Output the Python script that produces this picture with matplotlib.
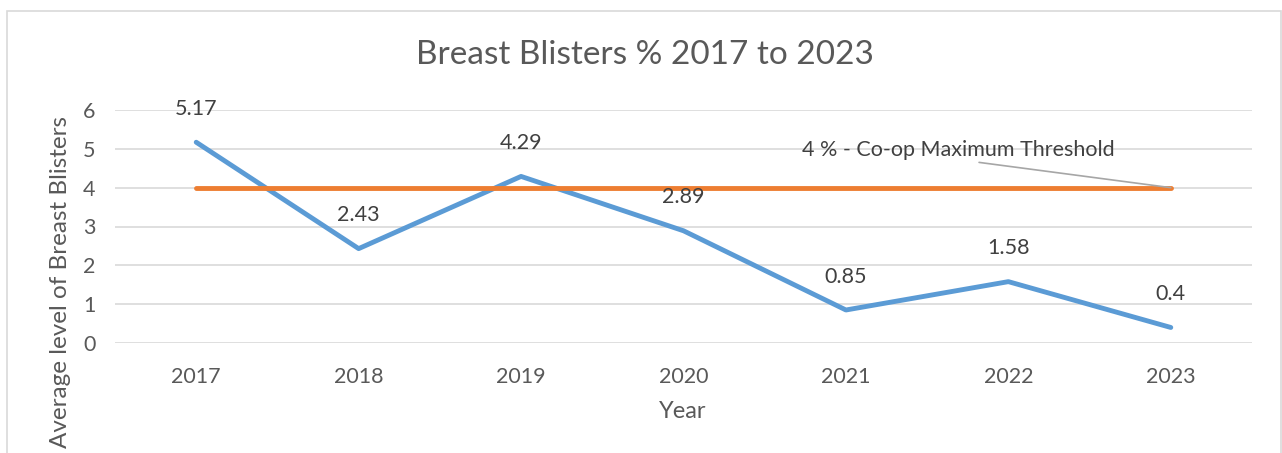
import numpy as np
import matplotlib.pyplot as plt
from matplotlib.patches import Rectangle

plt.rcParams['font.family'] = ['Lato', 'DejaVu Sans']

# data
years = ["2017", "2018", "2019", "2020", "2021", "2022", "2023"]
blisters = [5.17, 2.43, 4.29, 2.89, 0.85, 1.58, 0.4]
threshold = [4, 4, 4, 4, 4, 4, 4]
threshold_label = "4 % - Co-op Maximum Threshold"

grey = "#595959"
W, H = 1282, 453
fig = plt.figure(figsize=(W / 100, H / 100), dpi=100)

# outer chart frame (bottom is cut off in the reference)
fig.patches.append(Rectangle((7 / W, -0.1), (1281 - 7) / W, 1.1 - 11 / H,
                             transform=fig.transFigure, fill=False,
                             edgecolor="#d9d9d9", linewidth=1.2))

ax = fig.add_axes([115 / W, (H - 343) / H, (1252 - 115) / W, (343 - 110) / H])
x = np.arange(len(years))

ax.plot(x, blisters, color="#5b9bd5", linewidth=3.5, solid_capstyle="round", zorder=3)
ax.plot(x, threshold, color="#ed7d31", linewidth=3.5, solid_capstyle="round", zorder=3)

for xi, v in zip(x, blisters):
    ax.annotate(f"{v:g}", (xi, v), xytext=(0, 24), textcoords="offset points",
                ha="center", va="center", fontsize=15.5, color="#404040")

# label for the threshold line with a leader line
ax.annotate(threshold_label, xy=(x[-1], threshold[-1]), xytext=(4.69, 4.98),
            ha="center", va="center", fontsize=15.5, color="#404040",
            arrowprops=dict(arrowstyle="-", color="#a6a6a6", lw=1.2,
                            shrinkA=0, shrinkB=0, relpos=(0.5, 0.0)))

ax.set_xlim(-0.5, len(years) - 0.5)
ax.set_ylim(0, 6)
ax.set_yticks(range(0, 7))
ax.set_xticks(x)
ax.set_xticklabels(years)
ax.tick_params(length=0, labelsize=15.5, colors=grey)
ax.tick_params(axis="x", pad=17)
ax.tick_params(axis="y", pad=14)
ax.grid(axis="y", color="#d9d9d9", linewidth=1.2)
ax.set_axisbelow(True)
for s in ax.spines.values():
    s.set_visible(False)

fig.text(645 / W, 1 - 55 / H, "Breast Blisters % 2017 to 2023", ha="center",
         va="center", fontsize=24, color=grey)
fig.text(683 / W, 1 - 411 / H, "Year", ha="center", va="center",
         fontsize=17, color=grey)
fig.text(61 / W, 1 - 116 / H, "Average level of Breast Blisters", ha="center",
         va="top", rotation=90, fontsize=17.5, color=grey)

fig.savefig("out.png", dpi=100)
